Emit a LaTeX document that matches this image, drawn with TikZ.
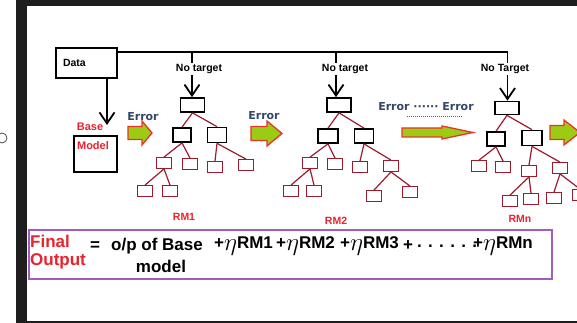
\documentclass[tikz,border=0pt]{standalone}
\usepackage{fontspec}
\setmainfont{Liberation Sans}
\newfontfamily\errfont{DejaVu Sans}
\usetikzlibrary{arrows.meta}
\definecolor{frame}{HTML}{1E1E1E}
\definecolor{errblue}{HTML}{34466A}
\definecolor{txtred}{HTML}{E8232D}
\definecolor{treered}{HTML}{9E1B2E}
\definecolor{boxpurple}{HTML}{A35BC2}
\definecolor{arrgreen}{HTML}{9CCB16}
\definecolor{arrred}{HTML}{E8352A}
\newcommand{\blockarr}[6]{%
  \filldraw[fill=arrgreen, draw=arrred, line width=1.3pt, line join=miter]
  (#1,{#4-#5}) -- (#2,{#4-#5}) -- (#2,{#4-#6}) -- (#3,#4) -- (#2,{#4+#6}) -- (#2,{#4+#5}) -- (#1,{#4+#5}) -- cycle;}
\newcommand{\myeta}{\raisebox{-2.5pt}{\fontsize{23}{23}\selectfont$\eta$}}
\tikzset{
  blackbox/.style={draw=black, line width=1.7pt, fill=white, inner sep=0pt},
  redbox/.style={draw=treered, line width=1.3pt, fill=white, inner sep=0pt, minimum width=15pt, minimum height=10.5pt},
  treeedge/.style={draw=treered, line width=1.2pt},
  barb/.style={line width=1.8pt, -{Straight Barb[length=11pt,width=15pt]}},
  topline/.style={line width=1.8pt},
  lbl/.style={font=\bfseries\fontsize{10.5}{12}\selectfont, inner sep=1.5pt},
  errlbl/.style={font=\errfont\bfseries\fontsize{11}{13}\selectfont, text=errblue, inner sep=0pt},
  rmlbl/.style={font=\bfseries\fontsize{10.5}{12}\selectfont, text=txtred, inner sep=0pt},
  redlbl/.style={font=\bfseries\fontsize{11}{12}\selectfont, text=txtred, inner sep=0pt},
  eqlbl/.style={font=\bfseries\fontsize{17}{19}\selectfont, inner sep=0pt},
  bigred/.style={font=\bfseries\fontsize{17}{19}\selectfont, text=txtred, inner sep=0pt, anchor=west},
}
\begin{document}
\begin{tikzpicture}[x=1pt,y=-1pt]
\useasboundingbox (0,0) rectangle (577,323);
\clip (0,0) rectangle (577,323);
\fill[white] (0,0) rectangle (577,323);
\fill[frame] (16,0) rectangle (27,323);
\fill[frame] (16,0) rectangle (577,6);
\fill[frame] (16,321) rectangle (577,323);
\draw[black!70, line width=0.8pt] (2,138) circle (5);

% Data and base model
\node[draw=black, line width=1.4pt, minimum width=61pt, minimum height=30pt, text width=47pt, inner xsep=7pt, align=left, font=\bfseries\fontsize{10.5}{12}\selectfont] (data) at (86.5,63) {Data};
\node[draw=black, line width=1.5pt, minimum width=43pt, minimum height=36pt, inner sep=0pt] (base) at (95.5,154) {};
\node[redlbl] (basetxt) at (90,127) {Base};
\node[redlbl] (modeltxt) at (93,146) {Model};
\coordinate (dataend) at (107,125);
\draw[barb] (data.south -| dataend) -- (dataend);

% labels
\node[lbl] (nt1) at (199,69) {No target};
\node[lbl] (nt2) at (345,69) {No target};
\node[lbl] (nt3) at (505,69) {No Target};
\coordinate (topR) at (507.5,52);
\coordinate (s1) at (192,0);
\coordinate (s2) at (336,0);
\coordinate (s3) at (507.5,0);

% tree 1
\node[blackbox, minimum width=24pt, minimum height=14pt] (r1) at (192.5,105) {};
\node[blackbox, minimum width=18pt, minimum height=14pt] (a1) at (182,135) {};
\node[blackbox, minimum width=19pt, minimum height=15pt] (b1) at (217,135) {};
\node[redbox] (c1) at (164,163) {};
\node[redbox] (d1) at (190,164) {};
\node[redbox] (e1) at (215,167) {};
\node[redbox] (f1) at (246,165) {};
\node[redbox] (g1) at (145,191) {};
\node[redbox] (h1) at (170,191) {};
\node[rmlbl] (rm1) at (184,217) {RM1};

% tree 2
\node[blackbox, minimum width=24pt, minimum height=14pt] (r2) at (339,105) {};
\node[blackbox, minimum width=20pt, minimum height=14pt] (a2) at (328,136) {};
\node[blackbox, minimum width=19pt, minimum height=14pt] (b2) at (364,136) {};
\node[redbox] (c2) at (310,163) {};
\node[redbox] (d2) at (335,164) {};
\node[redbox] (e2) at (360,167) {};
\node[redbox] (f2) at (391,166) {};
\node[redbox] (g2) at (291,191) {};
\node[redbox] (h2) at (314,191) {};
\node[redbox] (i2) at (374,196) {};
\node[redbox] (j2) at (410,192) {};
\node[rmlbl] (rm2) at (336,221) {RM2};

% tree n
\node[blackbox, minimum width=24pt, minimum height=13pt] (r3) at (507,108) {};
\node[blackbox, minimum width=18pt, minimum height=14pt] (a3) at (496,139) {};
\node[blackbox, minimum width=20pt, minimum height=15pt] (b3) at (532,138) {};
\node[redbox] (c3) at (479,166) {};
\node[redbox] (d3) at (503,167) {};
\node[redbox] (e3) at (529,171) {};
\node[redbox] (f3) at (560,168) {};
\node[redbox] (g3) at (510,201) {};
\node[redbox] (h3) at (531,199) {};
\node[redbox] (i3) at (554,198) {};
\node[redbox] (j3) at (580,195) {};
\node[rmlbl] (rm3) at (520,219) {RMn};

\foreach \p/\c in {r1/a1,r1/b1,a1/c1,a1/d1,b1/e1,b1/f1,c1/g1,c1/h1,
                   r2/a2,r2/b2,a2/c2,a2/d2,b2/e2,b2/f2,c2/g2,c2/h2,f2/i2,f2/j2,
                   r3/a3,r3/b3,a3/c3,a3/d3,b3/e3,b3/f3,e3/g3,e3/h3,f3/i3,f3/j3}
  \draw[treeedge] (\p.south) -- (\c.north);

% top line and arrows
\draw[topline] (data.east |- topR) -- (topR) -- (topR |- nt3.north);
\draw[topline] (s1 |- topR) -- (s1 |- nt1.north);
\draw[topline] (s2 |- topR) -- (s2 |- nt2.north);
\draw[barb] (s1 |- nt1.south) -- (s1 |- r1.north);
\draw[barb] (s2 |- nt2.south) -- (s2 |- r2.north);
\draw[barb] (s3 |- nt3.south) -- (s3 |- r3.north);

% error labels and green arrows
\node[errlbl] (err1) at (143,117) {Error};
\node[errlbl] (err2) at (264,116) {Error};
\node[errlbl] (err3) at (426,107) {Error ······ Error};
\coordinate (dl1) at (407,117);
\coordinate (dl2) at (463,117);
\draw[txtred, line width=1pt, dash pattern=on 1pt off 1pt] (dl1) -- (dl2);
\blockarr{128}{142}{152}{133}{6.5}{12}
\blockarr{251}{267}{282}{133.5}{7}{12.5}
\blockarr{402}{442}{473}{132.5}{4.5}{6.5}
\blockarr{550}{564}{580}{132.5}{7}{12.5}

% final output
\node[draw=boxpurple, line width=1.8pt, minimum width=523pt, minimum height=49pt, inner sep=0pt] (fo) at (290.5,254.5) {};
\node[bigred] (fin) at (30,241) {Final};
\node[bigred] (outp) at (30,261) {Output};
\node[eqlbl] (eq) at (95,246) {=};
\node[eqlbl] (op) at (157,246) {o/p of Base};
\node[eqlbl] (mdl) at (161,266) {model};
\node[eqlbl, anchor=west] (t1) at (214,246) {+\myeta RM1};
\node[eqlbl, anchor=west] (t2) at (276,246) {+\myeta RM2};
\node[eqlbl, anchor=west] (t3) at (340,246) {+\myeta RM3};
\node[eqlbl, anchor=west] (t4) at (403,246) {+};
\node[eqlbl, anchor=west] (t4b) at (417,246) {. . . . . .};
\node[eqlbl, anchor=west] (t5) at (473,246) {+\myeta RMn};
\end{tikzpicture}
\end{document}
